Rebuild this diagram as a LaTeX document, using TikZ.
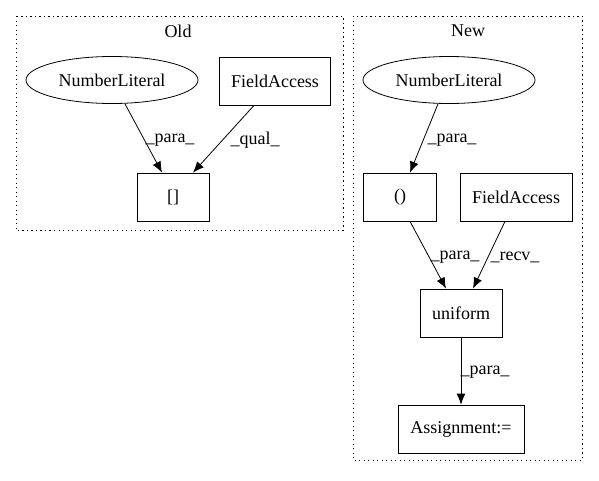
\documentclass[tikz,border=0pt]{standalone}
\usepackage{fontspec}
\setmainfont{Liberation Serif}
\usetikzlibrary{arrows.meta,shapes.geometric}

\begin{document}
\begin{tikzpicture}[x=1pt,y=-1pt,>={Latex[length=11pt,width=9pt]},
  font=\fontsize{18}{20}\selectfont,
  box/.style={draw,thick,inner sep=0pt,minimum height=48pt},
  oval/.style={draw,thick,ellipse,inner sep=0pt,minimum width=172pt,minimum height=47pt},
  cluster/.style={draw,line width=0.9pt,dash pattern=on 1.2pt off 3.3pt},
  lbl/.style={inner sep=0pt}]
\useasboundingbox (0,0) rectangle (599,480);
% old
\draw[cluster] (16,16) rectangle (343,230);
\node[lbl] (oldtitle) at (178,31) {Old};
\node[oval] (oldnum) at (112,80) {NumberLiteral};
\node[box,minimum width=111pt] (oldfield) at (275,81) {FieldAccess};
\node[box,minimum width=72pt] (oldidx) at (173,197) {[]};
\draw[->,thick] ([xshift=13pt]oldnum.south) -- ([xshift=-11pt]oldidx.north);
\draw[->,thick] ([xshift=-21pt]oldfield.south) -- ([xshift=20pt]oldidx.north);
\node[lbl] (l1) at (170,140) {\_para\_};
\node[lbl] (l2) at (255,140) {\_qual\_};
% new
\draw[cluster] (353,16) rectangle (582,460);
\node[lbl] (newtitle) at (468,31) {New};
\node[oval] (newnum) at (449,80) {NumberLiteral};
\node[box,minimum width=73pt] (paren) at (400,197) {()};
\node[box,minimum width=112pt] (newfield) at (516,197) {FieldAccess};
\node[box,minimum width=82pt] (unif) at (461,313) {uniform};
\node[box,minimum width=126pt] (assign) at (461,429) {Assignment:=};
\draw[->,thick] ([xshift=-11pt]newnum.south) -- ([xshift=10pt]paren.north);
\draw[->,thick] ([xshift=10pt]paren.south) -- ([xshift=-15pt]unif.north);
\draw[->,thick] ([xshift=-11pt]newfield.south) -- ([xshift=12pt]unif.north);
\draw[->,thick] (unif) -- (assign);
\node[lbl] (l3) at (452,140) {\_para\_};
\node[lbl] (l4) at (455,257) {\_para\_};
\node[lbl] (l5) at (515,257) {\_recv\_};
\node[lbl] (l6) at (485,372) {\_para\_};
\end{tikzpicture}
\end{document}
